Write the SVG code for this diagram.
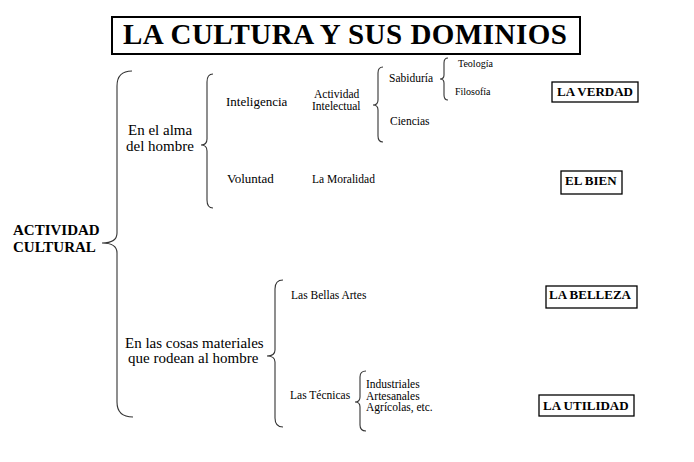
<svg xmlns="http://www.w3.org/2000/svg" width="694" height="462" viewBox="0 0 694 462">
<style>
text{fill:#000}
.t{font-size:29px;font-weight:bold}
.b15{font-size:15px;font-weight:bold}
.r15{font-size:15px}
.r13{font-size:13px}
.r12{font-size:11.5px}
.r10{font-size:10px}
.v{font-size:13px;font-weight:bold}
.box{fill:#fff;stroke:#000;stroke-width:1.3}
.brace{fill:none;stroke:#333;stroke-width:1.1}
</style>
<rect width="694" height="462" fill="#fff"/>
<g font-family="Liberation Serif, Tinos, DejaVu Serif, serif">
<g id="title">
<rect x="112" y="17" width="468" height="37" fill="#fff" stroke="#000" stroke-width="2"/>
<text class="t" x="123" y="44" textLength="444">LA CULTURA Y SUS DOMINIOS</text>
</g>
<g id="connectors">
<path class="brace" d="M132,71 Q117,71 117,86 L117,233 Q117,243 102,243 Q117,243 117,253 L117,402 Q117,417 133,417"/>
<path class="brace" d="M213,74 Q207,74 207,82 L207,139 Q207,145 201,145 Q207,145 207,151 L207,200 Q207,208 213,208"/>
<path class="brace" d="M383,67 Q378,67 378,73 L378,100 Q378,105 373,105 Q378,105 378,110 L378,136 Q378,142 383,142"/>
<path class="brace" d="M448,58 Q444,58 444,63 L444,75 Q444,79 440,79 Q444,79 444,83 L444,95 Q444,100 448,100"/>
<path class="brace" d="M283,280 Q275,280 275,289 L275,350 Q275,356 267,356 Q275,356 275,362 L275,418 Q275,427 283,427"/>
<path class="brace" d="M366,371 Q360,371 360,377 L360,397 Q360,402 355,402 Q360,402 360,407 L360,425 Q360,431 366,431"/>
</g>
<g id="root">
<text class="b15" x="13" y="235">ACTIVIDAD</text>
<text class="b15" x="13" y="252">CULTURAL</text>
</g>
<g id="alma">
<text class="r15" x="128" y="135">En el alma</text>
<text class="r15" x="126" y="151">del hombre</text>
</g>
<g id="cosas">
<text class="r15" x="125" y="348">En las cosas materiales</text>
<text class="r15" x="128" y="363">que rodean al hombre</text>
</g>
<g id="inteligencia"><text class="r13" x="226" y="106">Inteligencia</text></g>
<g id="voluntad"><text class="r13" x="227" y="183">Voluntad</text></g>
<g id="actividad-intelectual">
<text class="r12" x="314" y="98">Actividad</text>
<text class="r12" x="312" y="110">Intelectual</text>
</g>
<g id="moralidad"><text class="r12" x="312" y="183">La Moralidad</text></g>
<g id="sabiduria"><text class="r12" x="389" y="82">Sabiduría</text></g>
<g id="ciencias"><text class="r12" x="390" y="125">Ciencias</text></g>
<g id="teologia"><text class="r10" x="458" y="67">Teología</text></g>
<g id="filosofia"><text class="r10" x="455" y="95">Filosofía</text></g>
<g id="bellas-artes"><text class="r12" x="291" y="299">Las Bellas Artes</text></g>
<g id="tecnicas"><text class="r12" x="290" y="399">Las Técnicas</text></g>
<g id="tecnicas-list">
<text class="r12" x="366" y="388">Industriales</text>
<text class="r12" x="366" y="400">Artesanales</text>
<text class="r12" x="366" y="411">Agrícolas, etc.</text>
</g>
<g id="verdad">
<rect class="box" x="552" y="82" width="86" height="20"/>
<text class="v" x="557" y="96">LA VERDAD</text>
</g>
<g id="bien">
<rect class="box" x="561" y="171" width="61" height="23"/>
<text class="v" x="565" y="185">EL BIEN</text>
</g>
<g id="belleza">
<rect class="box" x="546" y="286" width="91" height="22"/>
<text class="v" x="549" y="299">LA BELLEZA</text>
</g>
<g id="utilidad">
<rect class="box" x="539" y="395" width="95" height="21"/>
<text class="v" x="543" y="410">LA UTILIDAD</text>
</g>
</g>
</svg>
